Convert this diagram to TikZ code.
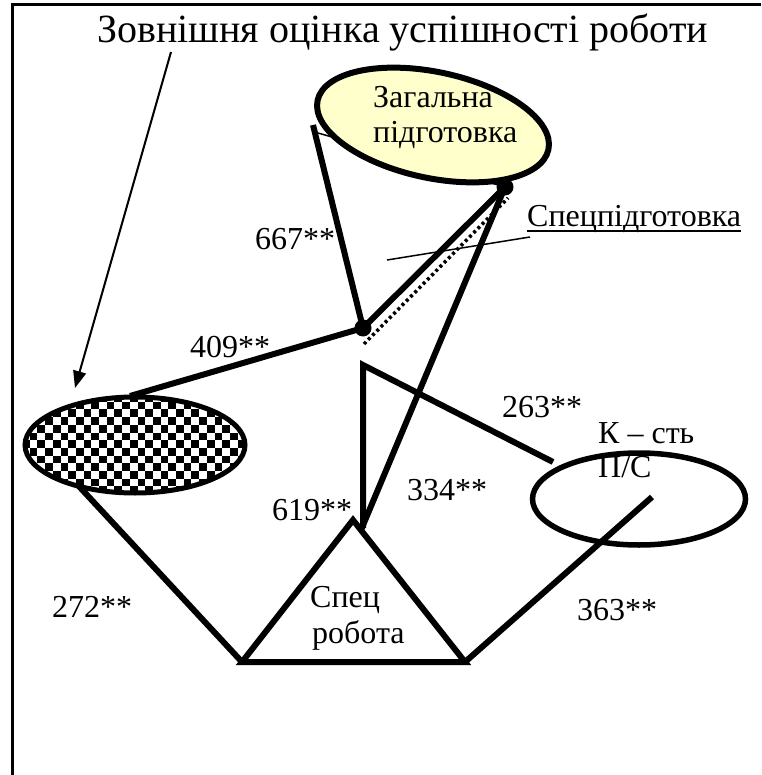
\documentclass[tikz,border=0pt]{standalone}
\usepackage{fontspec}
\setmainfont{Liberation Serif}
\usetikzlibrary{shapes.geometric,arrows.meta}
\definecolor{paleyellow}{RGB}{255,255,204}
\begin{document}
\begin{tikzpicture}[x=1pt,y=-1pt,
  heavy/.style={line width=6pt},
  light/.style={line width=1.5pt},
  txt/.style={anchor=base west,inner sep=0pt,font=\fontsize{32}{35}\selectfont},
  frameline/.style={line width=3pt},
  bigdot/.style={circle,fill=black,inner sep=0pt,minimum size=17pt}]
\useasboundingbox (0,0) rectangle (761,775);
% frame (cell border)
\coordinate (fbl) at (12,775);
\coordinate (ftl) at (12,5);
\coordinate (ftr) at (761,5);
\draw[frameline] (fbl) -- (ftl) -- (ftr);
% title
\node[anchor=base west,inner sep=0pt,font=\fontsize{40}{44}\selectfont] (title) at (97,43) {Зовнішня оцінка успішності роботи};
% arrow
\coordinate (arrs) at (171,52);
\coordinate (arre) at (75,388);
\draw[line width=2pt,-{Triangle[length=17pt,width=13pt]}] (arrs) -- (arre);
% key points
\coordinate (zA) at (313,125);
\coordinate (zB) at (318,133);
\coordinate (d1) at (363,328);
\coordinate (d2) at (505,187);
\coordinate (dotS) at (364,344);
\coordinate (dotE) at (508,198);
\coordinate (ptrS) at (387,260);
\coordinate (ptrE) at (530,237);
\coordinate (tA) at (353,520);
\coordinate (tL) at (242,662);
\coordinate (tR) at (465,662);
\coordinate (tJ) at (361,530);
\coordinate (vB) at (363,528);
\coordinate (vT) at (363,365);
\coordinate (kE) at (553,462);
\coordinate (kIn) at (652,497);
\coordinate (chkTop) at (130,396);
\coordinate (chkS) at (62,468);
% thin line under the yellow ellipse
\draw[light] (zB) -- (d2);
% yellow ellipse
\node[ellipse,draw,fill=paleyellow,line width=6pt,minimum width=236pt,minimum height=106pt,rotate=-12] (zag) at (433,125) {};
\node[txt] (zag1) at (373,108) {Загальна};
\node[txt] (zag2) at (373,143) {підготовка};
% lines from the top
\draw[heavy] (zA) -- (d1);
\draw[heavy] (d1) -- (d2);
\draw[line width=3.5pt,dash pattern=on 3pt off 3pt] (dotS) -- (dotE);
\draw[heavy] (d2) -- (tJ);
\draw[light] (ptrS) -- (ptrE);
\node[bigdot] (dot1) at (d1) {};
\node[bigdot] (dot2) at (d2) {};
% line to the checkered ellipse
\draw[heavy] (d1) -- (chkTop);
\draw[heavy] (chkS) -- (tL);
% checkered ellipse
\begin{scope}
\clip (135,445) ellipse [x radius=110pt, y radius=48pt];
\fill[white] (20,390) rectangle (250,500);
\foreach \i in {0,...,29}{
  \foreach \j in {0,...,7}{
    \pgfmathsetmacro{\xx}{22+\i*7.7}
    \pgfmathsetmacro{\yy}{394+(2*\j+mod(\i,2))*7.7}
    \fill (\xx,\yy) rectangle ++(7.7,7.7);
  }
}
\end{scope}
\node[ellipse,draw,line width=5pt,minimum width=220pt,minimum height=96pt] (chk) at (135,445) {};
% triangle
\draw[heavy,line join=miter] (tA) -- (tL) -- (tR) -- cycle;
\node[txt] (spec1) at (310,607) {Спец};
\node[txt] (spec2) at (312,643) {робота};
% line to the right ellipse
\draw[heavy,line join=miter] (vB) -- (vT) -- (kE);
% right ellipse
\node[ellipse,draw,line width=5.5pt,minimum width=213pt,minimum height=92pt] (kst) at (639,499) {};
\node[txt] (kst1) at (598,443) {К – сть};
\node[txt] (kst2) at (598,477) {П/С};
\draw[heavy] (kIn) -- (tR);
% labels
\node[txt] (l667) at (255,250) {667**};
\node[txt] (l409) at (190,357) {409**};
\node[txt] (l263) at (502,417) {263**};
\node[txt] (l619) at (272,520) {619**};
\node[txt] (l334) at (407,500) {334**};
\node[txt] (l272) at (52,617) {272**};
\node[txt] (l363) at (577,620) {363**};
\node[txt] (spc) at (527,227) {Спецпідготовка};
\draw[line width=1.5pt] ([yshift=-4pt]spc.base west) -- ([yshift=-4pt]spc.base east);
\end{tikzpicture}
\end{document}
